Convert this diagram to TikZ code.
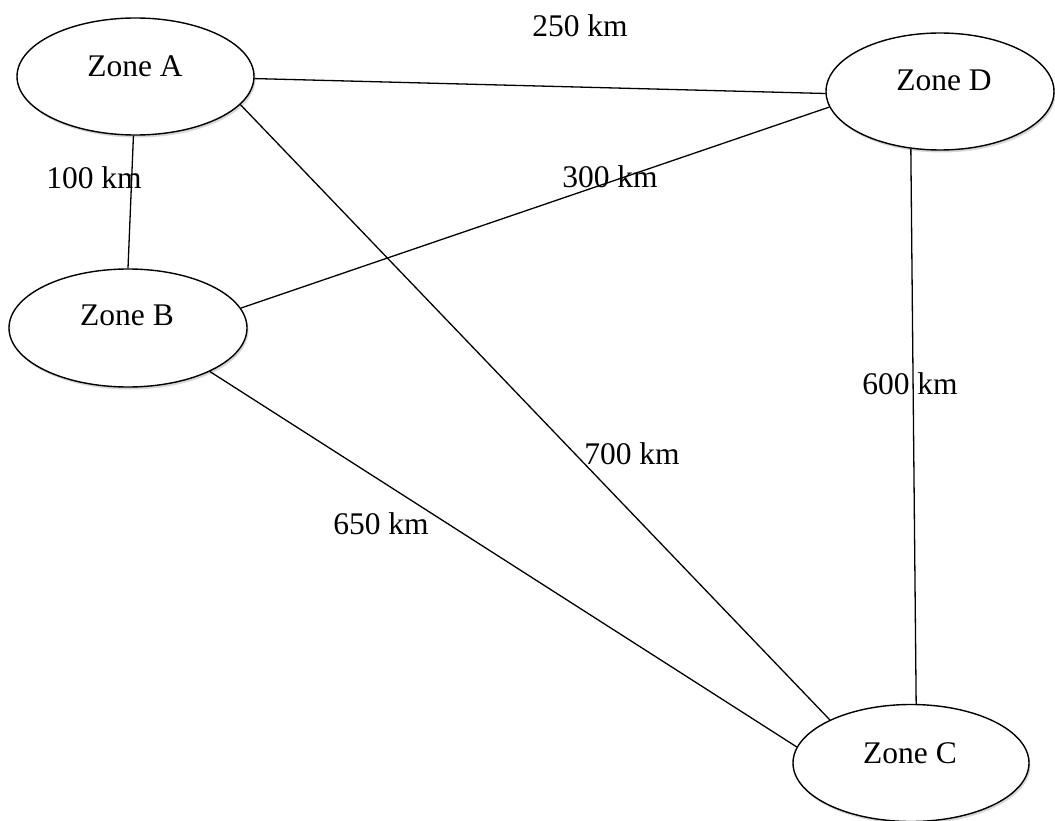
\documentclass[tikz,border=0pt]{standalone}
\usepackage{fontspec}
\setmainfont{Liberation Serif}
\usetikzlibrary{shapes.geometric,shadows}
\begin{document}
\begin{tikzpicture}[x=1pt,y=-1pt,
  zone/.style={ellipse, draw=black, line width=1.4pt, fill=white, inner sep=0pt,
    minimum height=117pt,
    drop shadow={fill=black!45, opacity=0.35, shadow xshift=1.5pt, shadow yshift=-2.5pt}},
  ztext/.style={anchor=base, inner sep=0pt, font=\fontsize{31.5}{36}\selectfont},
  dist/.style={anchor=base, inner sep=0pt, font=\fontsize{31.5}{36}\selectfont},
  link/.style={draw=black, line width=1.3pt}
]
\useasboundingbox (0,0) rectangle (1055,821);

% zones
\node[zone, minimum width=237pt] (A) at (135.5,76.5) {};
\node[zone, minimum width=228pt] (D) at (940,91.5) {};
\node[zone, minimum width=238pt, minimum height=118pt] (B) at (128,328) {};
\node[zone, minimum width=236pt] (C) at (911,763) {};

\node[ztext] (tA) at (135,77) {Zone A};
\node[ztext] (tD) at (944,91) {Zone D};
\node[ztext] (tB) at (127,325) {Zone B};
\node[ztext] (tC) at (910,763) {Zone C};

% distance labels
\node[dist] (dAD) at (580,37) {250 km};
\node[dist] (dAB) at (94,189) {100 km};
\node[dist] (dBD) at (610,188) {300 km};
\node[dist] (dDC) at (910,394) {600 km};
\node[dist] (dAC) at (632,464) {700 km};
\node[dist] (dBC) at (381,534) {650 km};

% connections
\draw[link] (A.-1) -- (D.181);
\draw[link] (A.-92) -- (B.90);
\draw[link] (A.-15) -- (C.152.6);
\draw[link] (B.10.9) -- (D.188);
\draw[link] (B.-28.8) -- (C.172.3);
\draw[link] (D.-117) -- (C.85.2);
\end{tikzpicture}
\end{document}
